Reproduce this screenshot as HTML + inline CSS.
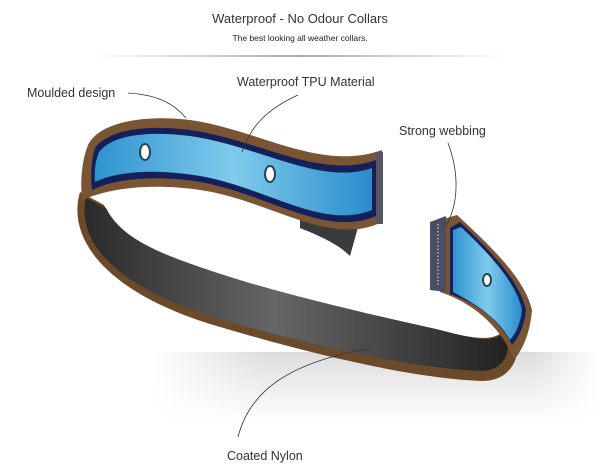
<!DOCTYPE html>
<html><head><style>
body{margin:0;background:#fff;width:600px;height:464px;overflow:hidden;font-family:"Liberation Sans",sans-serif}
</style></head><body>
<svg width="600" height="464" viewBox="0 0 600 464" xmlns="http://www.w3.org/2000/svg">
<defs>
<linearGradient id="hr" x1="0" x2="1"><stop offset="0" stop-color="#fff"/><stop offset=".5" stop-color="#aaa"/><stop offset="1" stop-color="#fff"/></linearGradient>
<linearGradient id="sh" x1="0" y1="0" x2="0" y2="1"><stop offset="0" stop-color="#ddd"/><stop offset="1" stop-color="#fff"/></linearGradient>
<linearGradient id="shx" x1="0" x2="1"><stop offset="0" stop-color="#fff" stop-opacity="1"/><stop offset=".25" stop-color="#fff" stop-opacity="0"/><stop offset=".85" stop-color="#fff" stop-opacity="0"/><stop offset="1" stop-color="#fff" stop-opacity="1"/></linearGradient>
<linearGradient id="blue" x1="0" x2="1"><stop offset="0" stop-color="#2f93cf"/><stop offset=".5" stop-color="#7fcbec"/><stop offset="1" stop-color="#2a8ccb"/></linearGradient>
<linearGradient id="dark" x1="0" x2="1"><stop offset="0" stop-color="#2a2a2a"/><stop offset=".45" stop-color="#666"/><stop offset="1" stop-color="#222"/></linearGradient>
</defs>
<text x="300" y="23" font-size="13" text-anchor="middle" fill="#333">Waterproof - No Odour Collars</text>
<text x="300" y="41" font-size="8.5" text-anchor="middle" fill="#222">The best looking all weather collars.</text>
<rect x="95" y="55" width="410" height="2" fill="url(#hr)"/>
<rect x="150" y="352" width="450" height="70" fill="url(#sh)"/>
<rect x="150" y="352" width="450" height="70" fill="url(#shx)"/>
<path d="M300,210 C330,225 350,228 360,220 L350,256 C338,244 320,236 300,228 Z" fill="#3a3a3a"/>
<path d="M80,192 C66,240 108,292 210,324 C310,354 410,378 482,381 C508,381 518,362 518,345 L502,332 C492,342 470,338 440,330 C360,312 260,290 180,260 C140,245 115,230 104,205 Z" fill="#6a4a28"/>
<path d="M86,198 C76,240 114,286 213,317 C312,346 410,368 480,371 C500,371 508,358 508,345 L500,335 C490,343 470,338 440,330 C360,312 260,290 180,260 C140,245 117,230 106,208 Z" fill="url(#dark)"/>
<path d="M88,145 C100,120 150,115 190,120 C260,130 320,172 382,150 L382,222 C330,248 270,200 200,190 C150,183 110,188 82,200 C80,180 82,160 88,145 Z" fill="#7a5533"/>
<path d="M95,148 C110,128 150,125 190,130 C260,140 320,180 376,160 L376,216 C325,238 268,194 200,182 C150,174 112,180 92,190 C90,172 92,158 95,148 Z" fill="#14205a"/>
<path d="M99,152 C113,134 150,131 190,136 C260,146 320,186 372,168 L372,210 C322,230 268,188 200,176 C152,168 115,172 95,182 C94,168 96,160 99,152 Z" fill="url(#blue)"/>
<rect x="376" y="152" width="7" height="72" fill="#556"/>
<ellipse cx="145" cy="152" rx="5" ry="8" fill="#fff" stroke="#245" stroke-width="2"/>
<ellipse cx="270" cy="174" rx="5" ry="8" fill="#fff" stroke="#245" stroke-width="2"/>
<path d="M440,220 L457,215 C495,250 525,280 532,310 C530,335 522,350 514,360 C505,335 480,305 440,292 Z" fill="#7a5533"/>
<path d="M450,228 L460,222 C495,255 520,283 526,310 C524,328 518,338 512,345 C500,320 478,304 450,294 Z" fill="#14205a"/>
<path d="M453,230 L461,227 C494,258 517,285 522,310 C520,326 515,334 510,340 C498,318 477,305 453,292 Z" fill="url(#blue)"/>
<path d="M430,222 L446,216 L446,292 L430,290 Z" fill="#4a4e62"/>
<line x1="438" y1="224" x2="438" y2="286" stroke="#ccd" stroke-width="1.2" stroke-dasharray="1.5,2"/>
<ellipse cx="487" cy="280" rx="4" ry="6" fill="#fff" stroke="#245" stroke-width="2"/>
<g fill="none" stroke="#333" stroke-width="0.8">
<path d="M128,93 C160,95 175,105 186,118"/>
<path d="M298,95 C265,110 250,128 242,152"/>
<path d="M448,143 C460,175 458,205 446,226"/>
<path d="M238,437 C250,390 290,362 372,348"/>
</g>
<g font-size="12.5" fill="#333">
<text x="27" y="97">Moulded design</text>
<text x="237" y="86">Waterproof TPU Material</text>
<text x="399" y="135">Strong webbing</text>
<text x="227" y="460">Coated Nylon</text>
</g>
</svg>
</body></html>
